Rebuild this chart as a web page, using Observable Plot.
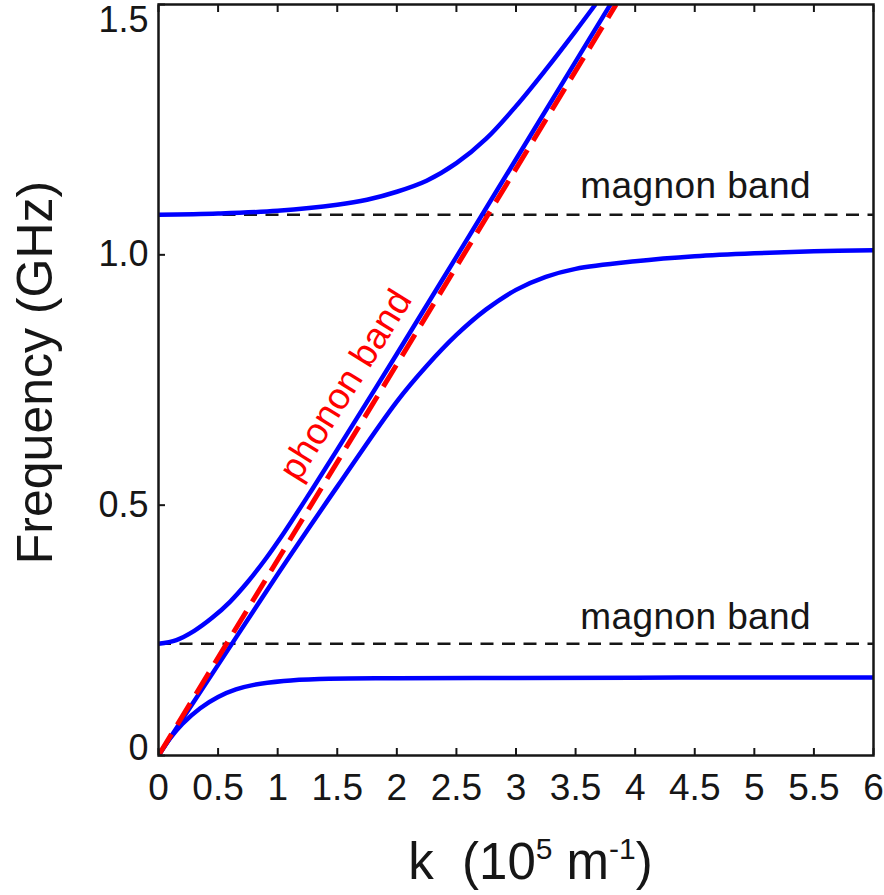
<!DOCTYPE html>
<html><head><meta charset="utf-8">
<script src="https://cdn.jsdelivr.net/npm/d3@7"></script>
<script src="https://cdn.jsdelivr.net/npm/@observablehq/plot@0.6"></script>
<style>
body{margin:0;background:#fff;}
#chart svg{overflow:visible;}
#chart svg text{font-family:Arial,"Liberation Sans",Helvetica,sans-serif !important;}
</style></head><body><div id="chart"></div>
<script>
// ---- data ----
const magnonLevels = [0.223, 1.08];
const magnonLabelText = ["magnon band", "magnon band"];

const phononK = [0, 3.84];
const phononF = [0, 1.5];

// lowest branch (origin -> ~0.156)
const kBranch1 = [0,0.1,0.2,0.35,0.5,0.65,0.8,1.05,1.35,2.0,3.0,4.0,5.0,6.0];
const fBranch1 = [0,0.035,0.063,0.0945,0.117,0.132,0.141,0.149,0.153,0.1545,0.155,0.1555,0.156,0.156];

// branch starting at lower magnon level, following phonon upward
const kBranch2 = [0,0.15,0.3,0.45,0.6,0.75,0.9,1.05,1.25,1.5,2.0,2.5,3.0,3.5,3.8];
const fBranch2 = [0.223,0.2305,0.249,0.275,0.307,0.347,0.393,0.444,0.517,0.611,0.802,0.996,1.191,1.386,1.503];

// branch from origin bending to ~1.01
const kBranch3 = [0,0.5,1.0,1.5,2.0,2.25,2.5,2.75,3.0,3.25,3.5,4.0,4.5,5.0,5.5,6.0];
const fBranch3 = [0,0.181,0.362,0.537,0.707,0.778,0.84,0.891,0.93,0.956,0.972,0.987,0.997,1.003,1.007,1.009];

// branch starting at upper magnon level, rising
const kBranch4 = [0,0.5,1.0,1.5,1.75,2.0,2.25,2.5,2.75,3.0,3.25,3.5,3.66];
const fBranch4 = [1.08,1.0825,1.088,1.1,1.11,1.126,1.148,1.183,1.232,1.297,1.37,1.447,1.498];

const xTicks = [0,0.5,1,1.5,2,2.5,3,3.5,4,4.5,5,5.5,6];
const xTickLabels = ["0","0.5","1","1.5","2","2.5","3","3.5","4","4.5","5","5.5","6"];
const yTicks = [0,0.5,1,1.5];
const yTickLabels = ["0","0.5","1.0","1.5"];

const yTitle = "Frequency (GHz)";
const xTitle = "k  (105 m-1)";
const phononLabel = "phonon band";

// ---- tables ----
const toRows = (ks, fs) => ks.map((k, i) => ({k, f: fs[i]}));
const branches = [toRows(kBranch1,fBranch1), toRows(kBranch2,fBranch2), toRows(kBranch3,fBranch3), toRows(kBranch4,fBranch4)];
const phonon = toRows(phononK, phononF);
const magnonLabels = magnonLevels.map((v, i) => ({k: 3.54, f: v + (i === 0 ? 0.053 : 0.057), text: magnonLabelText[i]}));

const blue = "#0000ff", red = "#ff0000", ink = "#161616";

const chart = Plot.plot({
  width: 884, height: 895,
  marginLeft: 158, marginRight: 11, marginTop: 4, marginBottom: 140,
  style: {fontFamily: "Arial, 'Liberation Sans', Helvetica, sans-serif", color: ink, background: "#fff"},
  x: {domain: [0, 6]},
  y: {domain: [0, 1.5]},
  marks: [
    Plot.ruleY(magnonLevels, {stroke: ink, strokeWidth: 2.5, strokeDasharray: "13,8.5"}),
    ...branches.map(b => Plot.line(b, {x: "k", y: "f", stroke: blue, strokeWidth: 4.5, curve: "catmull-rom", clip: true})),
    Plot.line(phonon, {x: "k", y: "f", stroke: red, strokeWidth: 5, strokeDasharray: "25,11", strokeLinecap: "butt", clip: true}),
    Plot.text(magnonLabels, {x: "k", y: "f", text: "text", fontSize: 37, textAnchor: "start", fill: ink}),
    Plot.text([phononLabel], {x: () => 1.57, y: () => 0.74, text: d => d, rotate: -58, fontSize: 37, fill: red}),
    // inward ticks
    Plot.axisX({anchor: "bottom", ticks: xTicks, tickSize: 7, dy: -7, fill: "none", label: null, strokeWidth: 2}),
    Plot.axisX({anchor: "top", ticks: xTicks, tickSize: 7, dy: 7, fill: "none", label: null, strokeWidth: 2}),
    Plot.axisY({anchor: "left", ticks: yTicks, tickSize: 7, dx: 7, fill: "none", label: null, strokeWidth: 2}),
    // tick labels
    Plot.axisX({anchor: "bottom", ticks: xTicks, tickSize: 0, tickPadding: 18, fontSize: 37, label: null,
      tickFormat: d => xTickLabels[xTicks.indexOf(d)]}),
    Plot.axisY({anchor: "left", ticks: yTicks, tickSize: 0, tickPadding: 10, fontSize: 36, label: null,
      tickFormat: d => yTickLabels[yTicks.indexOf(d)]}),
    Plot.frame({stroke: ink, strokeWidth: 2.5}),
    // titles (placed precisely below)
    Plot.text([yTitle], {frameAnchor: "left", text: d => d, fontSize: 50, fill: ink}),
    Plot.text([xTitle], {frameAnchor: "bottom", text: d => d, fontSize: 51, fill: ink})
  ]
});

document.getElementById("chart").appendChild(chart);

// post-process: nudge end tick labels, place titles, superscripts in x title
const svg = d3.select(chart);
svg.selectAll("text").each(function() {
  const t = this.textContent;
  const el = d3.select(this);
  const inY = this.closest('g[aria-label="y-axis tick label"]');
  if (t === "1.5" && inY) el.attr("transform", (el.attr("transform") || "") + " translate(0,16)");
  if (t === "0" && inY) el.attr("transform", (el.attr("transform") || "") + " translate(0,-7)");
  if (t === yTitle) {
    el.attr("x", null).attr("y", null).attr("dx", null).attr("dy", null)
      .attr("text-anchor", "middle")
      .attr("transform", "translate(51,372) rotate(-90)");
  }
  if (t === xTitle) {
    el.attr("x", null).attr("y", null).attr("dx", null).attr("dy", null)
      .attr("text-anchor", "middle")
      .attr("transform", "translate(530,878)");
    el.text(null).style("white-space", "pre");
    el.append("tspan").text("k  (10");
    el.append("tspan").attr("dy", -20).attr("font-size", 30).text("5");
    el.append("tspan").attr("dy", 20).text(" m");
    el.append("tspan").attr("dy", -20).attr("font-size", 30).text("-1");
    el.append("tspan").attr("dy", 20).text(")");
  }
  if (t === "magnon band") el.style("letter-spacing", "0.4px");
});
</script>
</body></html>
